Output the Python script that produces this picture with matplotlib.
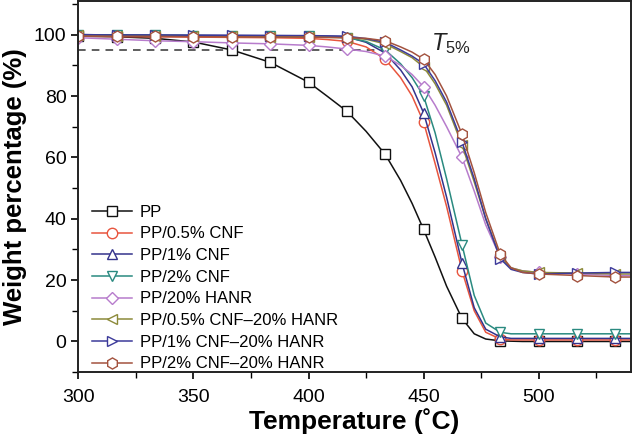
import numpy as np
import matplotlib
matplotlib.use("Agg")
import matplotlib.pyplot as plt
from matplotlib.ticker import MultipleLocator

plt.rcParams["font.family"] = ["Liberation Sans", "DejaVu Sans"]
plt.rcParams["mathtext.fontset"] = "custom"
plt.rcParams["mathtext.rm"] = "Liberation Sans"
plt.rcParams["mathtext.it"] = "Liberation Sans:italic"

# Temperatures (C) at which the curves were read
temp = [300, 316.7, 333.3, 350, 366.7, 383.3, 400, 408, 416.7, 425, 433.3, 440,
        445, 450, 455, 460, 466.7, 472, 477, 483.3, 488, 493, 500, 516.7, 533.3, 540]
# Temperatures that carry a marker
marker_temp = [300, 316.7, 333.3, 350, 366.7, 383.3, 400, 416.7, 433.3, 450,
               466.7, 483.3, 500, 516.7, 533.3]

labels = ["PP", "PP/0.5% CNF", "PP/1% CNF", "PP/2% CNF", "PP/20% HANR",
          "PP/0.5% CNF\u201320% HANR", "PP/1% CNF\u201320% HANR", "PP/2% CNF\u201320% HANR"]

pp = [99.5, 99.3, 98.8, 97.6, 95.0, 91.0, 84.5, 80.0, 75.0, 68.5, 61.0, 52.5,
      45.0, 36.5, 27.5, 18.0, 7.5, 2.5, 0.8, 0.2, 0.1, 0.0, 0.0, 0.0, 0.0, 0.0]
pp_05cnf = [99.5, 99.4, 99.3, 99.2, 99.1, 99.0, 98.8, 98.4, 97.8, 96.0, 92.0, 86.0,
            80.0, 71.5, 58.0, 44.0, 23.0, 10.0, 3.0, 0.8, 0.5, 0.5, 0.5, 0.5, 0.5, 0.5]
pp_1cnf = [100.0, 99.9, 99.8, 99.8, 99.7, 99.7, 99.6, 99.5, 99.3, 97.5, 94.0, 88.5,
           83.0, 74.5, 61.5, 47.0, 25.5, 11.0, 4.0, 1.5, 1.0, 1.0, 1.0, 1.0, 1.0, 1.0]
pp_2cnf = [100.0, 99.9, 99.8, 99.7, 99.6, 99.5, 99.4, 99.3, 99.0, 97.8, 95.0, 90.5,
           86.0, 80.0, 68.0, 53.0, 31.5, 15.0, 6.0, 3.0, 2.5, 2.5, 2.5, 2.5, 2.5, 2.5]
pp_hanr = [99.0, 98.5, 98.0, 97.7, 97.3, 97.0, 96.5, 96.0, 95.3, 94.5, 93.0, 90.0,
           87.0, 83.0, 77.0, 70.0, 60.0, 49.0, 38.0, 27.5, 24.0, 23.0, 22.5, 22.0, 21.5, 21.5]
pp_05cnf_hanr = [99.8, 99.7, 99.6, 99.5, 99.4, 99.3, 99.2, 99.1, 99.0, 98.5, 97.0, 94.5,
                 92.5, 89.5, 84.0, 77.0, 64.0, 52.0, 40.0, 27.5, 24.0, 23.0, 22.5, 22.3, 22.0, 22.0]
pp_1cnf_hanr = [100.0, 99.9, 99.9, 99.8, 99.8, 99.7, 99.7, 99.6, 99.5, 98.7, 97.5, 95.0,
                93.0, 90.5, 85.0, 78.0, 65.0, 53.0, 40.0, 27.0, 23.5, 22.5, 22.0, 22.3, 22.5, 22.5]
pp_2cnf_hanr = [99.5, 99.4, 99.4, 99.3, 99.3, 99.2, 99.2, 99.1, 99.0, 98.8, 98.0, 96.0,
                94.3, 92.0, 87.0, 80.0, 67.5, 55.0, 42.0, 28.5, 24.0, 22.5, 22.0, 21.5, 21.0, 21.0]

series = [pp, pp_05cnf, pp_1cnf, pp_2cnf, pp_hanr, pp_05cnf_hanr, pp_1cnf_hanr, pp_2cnf_hanr]
colors = ["#111111", "#e8553e", "#34338c", "#2a8a80", "#b77ccc", "#8c8a3a", "#3c3a9a", "#a3523e"]
markers = ["s", "o", "^", "v", "D", "<", ">", "h"]
msizes = [6.5, 7.5, 7.5, 7.5, 6, 7.5, 7.5, 8]

fig = plt.figure(figsize=(6.32, 4.42), dpi=100)
ax = fig.add_axes([0.124, 0.158, 0.874, 0.84])

mark_idx = [temp.index(t) for t in marker_temp]
for y, c, m, ms, lab in zip(series, colors, markers, msizes, labels):
    ax.plot(temp, y, color=c, lw=1.1, marker=m, markevery=mark_idx, ms=ms,
            mfc="white", mec=c, mew=1.0, label=lab)

# 5% weight loss line
ax.plot([300, 436], [95, 95], ls=(0, (5, 4)), color="#333333", lw=1.1, zorder=0)
ax.text(453, 94.8, r"$\mathit{T}_{\mathrm{5\%}}$", fontsize=17, color="#222222")

ax.set_xlim(300, 540)
ax.set_ylim(-10, 111)
ax.xaxis.set_major_locator(MultipleLocator(50))
ax.xaxis.set_minor_locator(MultipleLocator(25))
ax.yaxis.set_major_locator(MultipleLocator(20))
ax.yaxis.set_minor_locator(MultipleLocator(10))
ax.tick_params(which="major", direction="out", length=5, width=1.2, labelsize=14)
ax.tick_params(axis="x", which="major", pad=7)
ax.tick_params(which="minor", direction="out", length=4, width=1.0)
for s in ax.spines.values():
    s.set_linewidth(1.4)
    s.set_color("#222222")

ax.set_xlabel("Temperature (\u02daC)", fontsize=19, fontweight="bold", labelpad=2)
ax.set_ylabel("Weight percentage (%)", fontsize=18.5, fontweight="bold", labelpad=5)

ax.legend(loc="lower left", frameon=False, fontsize=12, handlelength=2.4,
          labelspacing=0.4, borderaxespad=0.0, handletextpad=0.5,
          bbox_to_anchor=(0.012, -0.016))

fig.savefig("out.png", dpi=100)
